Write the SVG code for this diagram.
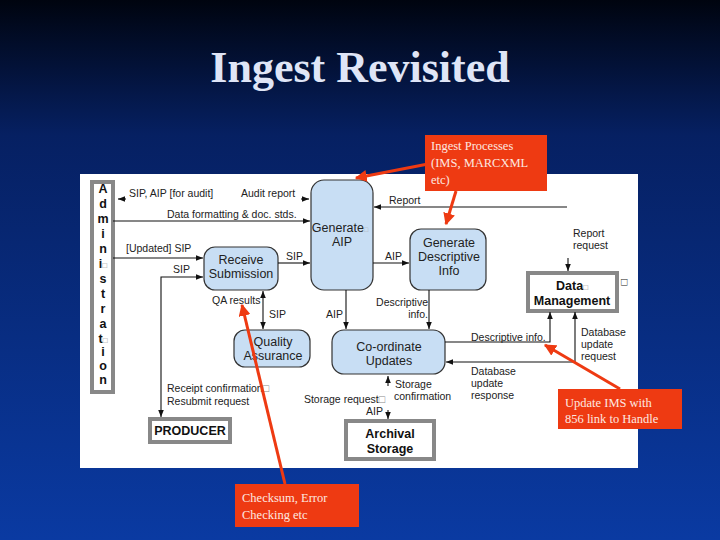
<svg xmlns="http://www.w3.org/2000/svg" width="720" height="540" viewBox="0 0 720 540">
<defs>
<linearGradient id="bg" x1="0" y1="0" x2="0" y2="1">
<stop offset="0" stop-color="#00040f"/>
<stop offset="0.25" stop-color="#062062"/>
<stop offset="1" stop-color="#0a3aa2"/>
</linearGradient>
<marker id="ah" viewBox="0 0 10 10" refX="10" refY="5" markerWidth="7" markerHeight="7" orient="auto-start-reverse" markerUnits="userSpaceOnUse">
<path d="M0,1 L10,5 L0,9 z" fill="#111"/>
</marker>
<marker id="rh" viewBox="0 0 10 10" refX="9" refY="5" markerWidth="12" markerHeight="12" orient="auto" markerUnits="userSpaceOnUse">
<path d="M0,0 L10,5 L0,10 z" fill="#ee3a12"/>
</marker>
<style>
.proc{fill:#c8def4;stroke:#333;stroke-width:1.2}
.ext{fill:#fff;stroke:#888;stroke-width:4}
.nt{font-family:"Liberation Sans",Arial,sans-serif;font-size:12.5px;fill:#222;text-anchor:middle}
.bt{font-family:"Liberation Sans",Arial,sans-serif;font-size:12.5px;font-weight:bold;fill:#111;text-anchor:middle}
.lb{font-family:"Liberation Sans",Arial,sans-serif;font-size:10.5px;fill:#222}
.ln{fill:none;stroke:#111;stroke-width:1.1}
.call{fill:#ee3a12}
.ct{font-family:"Liberation Serif","Times New Roman",serif;font-size:12.5px;fill:#fde8e0}
.cl{fill:none;stroke:#ee3a12;stroke-width:3}
</style>
</defs>
<rect width="720" height="540" fill="url(#bg)"/>
<text x="360" y="82" font-family="Liberation Serif,'Times New Roman',serif" font-size="44" font-weight="bold" fill="#dfe5f6" text-anchor="middle">Ingest Revisited</text>
<rect x="80" y="174" width="558" height="294" fill="#fff"/>

<g id="administration">
<rect class="ext" x="92" y="182" width="21" height="210"/>
<g class="bt" font-size="12">
<text x="103" y="193">A</text><text x="103" y="208">d</text><text x="103" y="223">m</text><text x="103" y="238">i</text><text x="103" y="253">n</text><text x="103" y="268">i<tspan font-size="8" font-weight="normal" fill="#888">□</tspan></text><text x="103" y="283">s</text><text x="103" y="298">t</text><text x="103" y="313">r</text><text x="103" y="328">a</text><text x="103" y="343">t<tspan font-size="8" font-weight="normal" fill="#888">□</tspan></text><text x="103" y="356">i</text><text x="103" y="370">o</text><text x="103" y="384">n</text>
</g>
</g>

<g id="generate-aip">
<rect class="proc" x="311" y="180" width="62" height="110" rx="13"/>
<text class="nt" x="340" y="232" font-size="12">Generate<tspan font-size="7" fill="#aaa">□</tspan></text>
<text class="nt" x="342" y="246">AIP</text>
</g>
<g id="receive-submission">
<rect class="proc" x="204" y="247" width="74" height="43" rx="11"/>
<text class="nt" x="241" y="264">Receive</text>
<text class="nt" x="241" y="278">Submission</text>
</g>
<g id="generate-descriptive-info">
<rect class="proc" x="410" y="229" width="76" height="61" rx="11"/>
<text class="nt" x="449" y="247">Generate</text>
<text class="nt" x="449" y="261">Descriptive</text>
<text class="nt" x="449" y="275">Info</text>
</g>
<g id="quality-assurance">
<rect class="proc" x="234" y="330" width="76" height="37" rx="11"/>
<text class="nt" x="273" y="346">Quality</text>
<text class="nt" x="273" y="360">Assurance</text>
</g>
<g id="coordinate-updates">
<rect class="proc" x="332" y="330" width="113" height="44" rx="12"/>
<text class="nt" x="389" y="351">Co-ordinate</text>
<text class="nt" x="389" y="365">Updates</text>
</g>
<g id="data-management">
<rect class="ext" x="528" y="273" width="89" height="38"/>
<text class="bt" x="572" y="290" font-size="12">Data<tspan font-size="8" font-weight="normal" fill="#888">□</tspan></text>
<text class="bt" x="572" y="305" font-size="12">Management</text>
<text class="lb" x="0" y="0" font-size="8" fill="#999" transform="translate(621,279) rotate(90)">□</text>
</g>
<g id="producer">
<rect class="ext" x="150" y="419" width="80" height="23"/>
<text class="bt" x="190" y="435">PRODUCER</text>
</g>
<g id="archival-storage">
<rect class="ext" x="346" y="421" width="88" height="38"/>
<text class="bt" x="390" y="438">Archival</text>
<text class="bt" x="390" y="453">Storage</text>
</g>

<g id="connectors">
<path class="ln" d="M126,199 L118,199" marker-end="url(#ah)"/>
<path class="ln" d="M301,199 L309,199" marker-end="url(#ah)"/>
<path class="ln" d="M113,221 L310,221" marker-end="url(#ah)"/>
<path class="ln" d="M113,258 L203,258" marker-end="url(#ah)"/>
<path class="ln" d="M203,277 L161,277 L161,417" marker-start="url(#ah)" marker-end="url(#ah)"/>
<path class="ln" d="M278,263 L310,263" marker-end="url(#ah)"/>
<path class="ln" d="M373,263 L409,263" marker-end="url(#ah)"/>
<path class="ln" d="M263,291 L263,329" marker-start="url(#ah)" marker-end="url(#ah)"/>
<path class="ln" d="M346,290 L346,329" marker-end="url(#ah)"/>
<path class="ln" d="M429,290 L429,329" marker-end="url(#ah)"/>
<path class="ln" d="M567,207 L374,207" marker-end="url(#ah)"/>
<path class="ln" d="M568,258 L568,271" marker-end="url(#ah)"/>
<path class="ln" d="M445,342 L550,342 L550,312" marker-end="url(#ah)"/>
<path class="ln" d="M575,362 L575,312" marker-end="url(#ah)"/>
<path class="ln" d="M575,362 L446,362" marker-end="url(#ah)"/>
<path class="ln" d="M388,386 L388,376" marker-end="url(#ah)"/>
<path class="ln" d="M388,410 L388,419" marker-end="url(#ah)"/>
</g>

<g id="labels" class="lb">
<text x="129" y="197">SIP, AIP [for audit]</text>
<text x="241" y="197">Audit report</text>
<text x="167" y="218">Data formatting &amp; doc. stds.</text>
<text x="126" y="252">[Updated] SIP</text>
<text x="173" y="273">SIP</text>
<text x="286" y="260">SIP</text>
<text x="385" y="260">AIP</text>
<text x="389" y="204">Report</text>
<text x="573" y="237">Report</text>
<text x="573" y="249">request</text>
<text x="212" y="304">QA results</text>
<text x="269" y="318">SIP</text>
<text x="326" y="318">AIP</text>
<text x="428" y="306" text-anchor="end">Descriptive</text>
<text x="428" y="318" text-anchor="end">info.</text>
<text x="471" y="341">Descriptive info.</text>
<text x="581" y="336">Database</text>
<text x="581" y="348">update</text>
<text x="581" y="360">request</text>
<text x="471" y="375">Database</text>
<text x="471" y="387">update</text>
<text x="471" y="399">response</text>
<text x="395" y="388">Storage</text>
<text x="394" y="400">confirmation</text>
<text x="385" y="403" text-anchor="end">Storage request<tspan fill="#888">□</tspan></text>
<text x="366" y="415">AIP</text>
<text x="167" y="392">Receipt confirmation<tspan fill="#888">□</tspan></text>
<text x="167" y="405">Resubmit request</text>
</g>

<g id="callout-ingest">
<rect class="call" x="425" y="135" width="122" height="56"/>
<text class="ct" x="431" y="150">Ingest Processes</text>
<text class="ct" x="431" y="167">(IMS, MARCXML</text>
<text class="ct" x="431" y="184">etc)</text>
<path class="cl" d="M428,164 L356,178" marker-end="url(#rh)"/>
<path class="cl" d="M456,191 L446,224" marker-end="url(#rh)"/>
</g>
<g id="callout-update">
<rect class="call" x="558" y="389" width="124" height="40"/>
<text class="ct" x="565" y="407">Update IMS with</text>
<text class="ct" x="565" y="423">856 link to Handle</text>
<path class="cl" d="M620,389 L545,345" marker-end="url(#rh)"/>
</g>
<g id="callout-checksum">
<rect class="call" x="235" y="484" width="124" height="43"/>
<text class="ct" x="242" y="502">Checksum, Error</text>
<text class="ct" x="242" y="519">Checking etc</text>
<path class="cl" d="M285,484 L242,305" marker-end="url(#rh)"/>
</g>
</svg>
